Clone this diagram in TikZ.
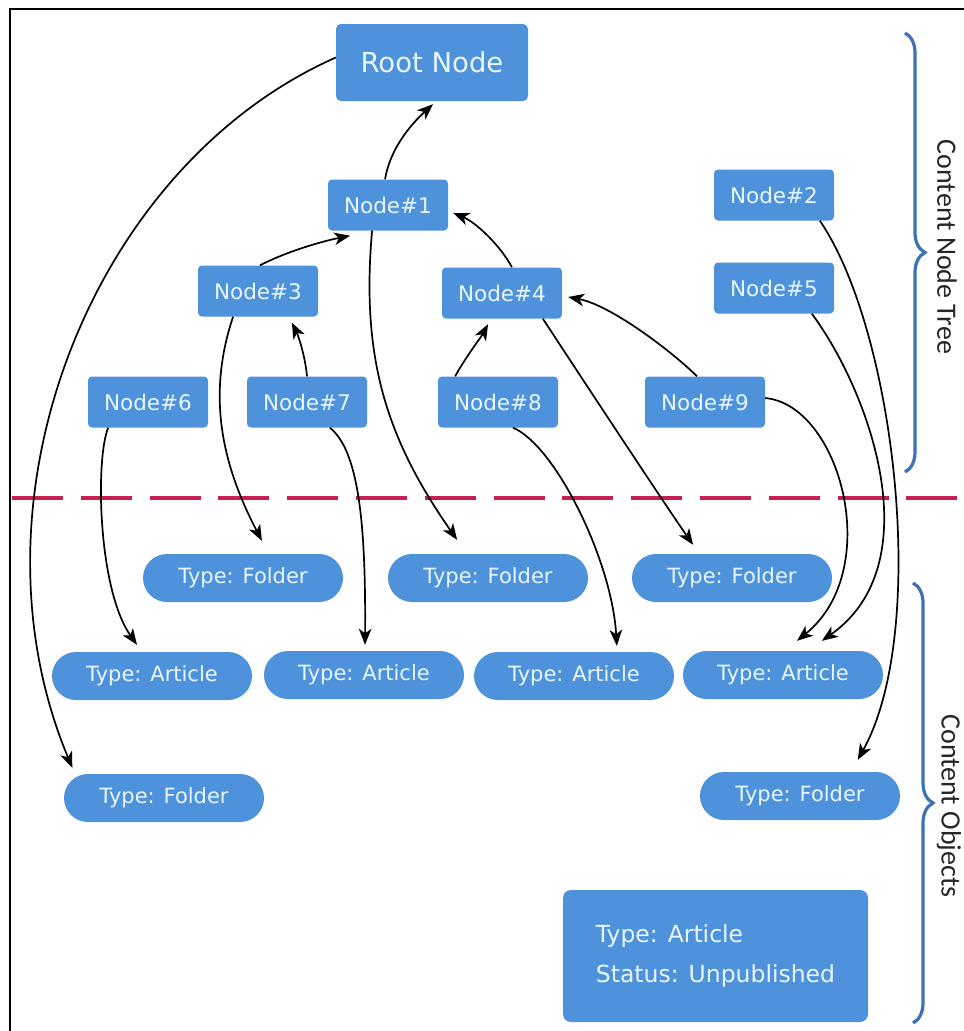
\documentclass[tikz,border=0pt]{standalone}
\usepackage{fontspec}
\setmainfont{DejaVu Sans}
\newfontfamily\bracefont{Carlito}
\usetikzlibrary{arrows.meta,decorations.pathreplacing}
\definecolor{boxblue}{RGB}{77,146,218}
\definecolor{boxtext}{RGB}{232,246,255}
\definecolor{divider}{RGB}{198,32,82}
\definecolor{bracecol}{RGB}{62,112,182}
\begin{document}
\begin{tikzpicture}[x=1bp,y=1bp,
  box/.style={fill=boxblue, text=boxtext, inner sep=0pt, align=center},
  treenode/.style={box, rounded corners=4bp, minimum width=120bp, minimum height=51bp,
    font=\fontsize{21.5bp}{26bp}\selectfont},
  rootnode/.style={box, rounded corners=5bp, minimum width=192bp, minimum height=77bp,
    font=\fontsize{27.5bp}{32bp}\selectfont},
  pill/.style={box, rounded corners=24bp, minimum width=200bp, minimum height=48bp,
    font=\fontsize{21bp}{25bp}\selectfont},
  bigbox/.style={box, align=left, rounded corners=8bp, minimum width=305bp, minimum height=132bp,
    font=\fontsize{23.5bp}{40bp}\selectfont},
  link/.style={draw=black, line width=1.7bp, -{Stealth[length=16bp,width=12.5bp,inset=4.5bp]}},
  grpbrace/.style={draw=bracecol, line width=3.2bp, decorate,
    decoration={brace, amplitude=20bp}},
  grplabel/.style={rotate=-90, font=\bracefont\fontsize{28bp}{32bp}\selectfont, text=black!85}
]
\useasboundingbox (0,0) rectangle (964,-1031);
\fill[white] (0,0) rectangle (964,-1031);

% frame
\draw[line width=2.6bp] (10,-1031) -- (10,-9) -- (964,-9);

% divider between node tree and content objects
\draw[divider, line width=4bp, dash pattern=on 51bp off 17.8bp] (12,-498) -- (964,-498);

% content node tree
\node[rootnode] (root) at (432,-62.5) {Root Node};
\node[treenode] (n1) at (388,-205) {Node\#1};
\node[treenode] (n2) at (774,-195) {Node\#2};
\node[treenode] (n3) at (258,-291) {Node\#3};
\node[treenode] (n4) at (502,-293) {Node\#4};
\node[treenode] (n5) at (774,-288) {Node\#5};
\node[treenode] (n6) at (148,-402) {Node\#6};
\node[treenode] (n7) at (307,-402) {Node\#7};
\node[treenode] (n8) at (498,-402) {Node\#8};
\node[treenode] (n9) at (705,-402) {Node\#9};

% content objects
\node[pill] (fa) at (243,-578) {Type: Folder};
\node[pill] (fb) at (488,-578) {Type: Folder};
\node[pill] (fc) at (732,-578) {Type: Folder};
\node[pill] (aa) at (152,-676) {Type: Article};
\node[pill] (ab) at (364,-675) {Type: Article};
\node[pill] (ac) at (574,-676) {Type: Article};
\node[pill] (ad) at (783,-675) {Type: Article};
\node[pill] (fd) at (164,-798) {Type: Folder};
\node[pill] (fe) at (800,-796) {Type: Folder};
\node[bigbox] (big) at (715.5,-956) {Type: Article\\Status: Unpublished};

% parent links inside the tree
\draw[link] ([xshift=-3]n1.north) .. controls +(5,30) and +(-23,-21) .. ([xshift=1,yshift=-3]root.south);
\draw[link] ([xshift=2]n3.north) .. controls +(25,13) and +(-30,-6) .. ([xshift=-38,yshift=-5]n1.south);
\draw[link] (n7.north) .. controls +(-2,21.5) and +(6,-12) .. ([xshift=34,yshift=-6]n3.south);
\draw[link] ([xshift=10]n4.north) .. controls +(-12,22.5) and +(22,-9) .. ([xshift=5,yshift=-8]n1.east);
\draw[link] ([xshift=-43]n8.north) .. controls +(10,18.5) and +(-7,-13) .. ([xshift=-14,yshift=-5.5]n4.south);
\draw[link] ([xshift=-8]n9.north) .. controls +(-27,26.5) and +(42,-8) .. ([xshift=6,yshift=-4]n4.east);

% links from tree nodes to their content objects
\draw[link] ([yshift=5]root.west) .. controls +(-244,-108) and +(-112,268) .. ([xshift=-92,yshift=6]fd.north);
\draw[link] ([xshift=-16]n1.south) .. controls +(-11,-125.5) and +(-72,103) .. ([xshift=-31,yshift=14]fb.north);
\draw[link] ([xshift=-25]n3.south) .. controls +(-28,-83.5) and +(-37,71) .. ([xshift=19,yshift=13]fa.north);
\draw[link] ([xshift=23]n7.south) .. controls +(28,-22.5) and +(1,125) .. ([xshift=1,yshift=6]ab.north);
\draw[link] ([xshift=41]n4.south) .. controls +(37,-56.5) and +(-28,40) .. ([xshift=-39,yshift=9]fc.north);
\draw[link] ([xshift=15]n8.south) .. controls +(42,-17.5) and +(-5,86) .. ([xshift=43,yshift=6]ac.north);
\draw[link] ([xshift=-40]n6.south) .. controls +(-13,-32.5) and +(-39,55) .. ([xshift=-15,yshift=7]aa.north);
\draw[link] ([yshift=4]n9.east) .. controls +(75,-7) and +(88,71) .. ([xshift=14,yshift=10]ad.north);
\draw[link] ([xshift=38]n5.south) .. controls +(60,-81.5) and +(108,76) .. ([xshift=39,yshift=10]ad.north);
\draw[link] ([xshift=46]n2.south) .. controls +(75,-109.5) and +(72,130) .. ([xshift=58,yshift=12]fe.north);

% group braces
\coordinate (treetop) at (905,-33);
\coordinate (treebot) at (905,-472);
\coordinate (objtop) at (913,-583);
\coordinate (objbot) at (913,-1023);
\draw[grpbrace] (treetop) -- (treebot);
\draw[grpbrace] (objtop) -- (objbot);
\node[grplabel] (treelbl) at (947,-247) {Content Node Tree};
\node[grplabel] (objlbl) at (949,-806) {Content Objects};
\end{tikzpicture}
\end{document}
